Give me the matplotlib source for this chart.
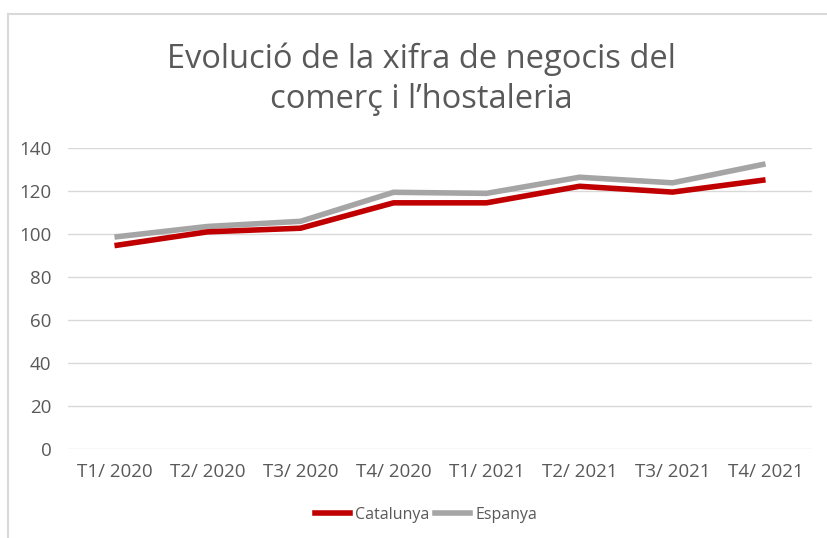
import matplotlib.pyplot as plt
from matplotlib.lines import Line2D

plt.rcParams['font.family'] = ['Open Sans', 'DejaVu Sans']

# dades
trimestres = ['T1/ 2020', 'T2/ 2020', 'T3/ 2020', 'T4/ 2020',
              'T1/ 2021', 'T2/ 2021', 'T3/ 2021', 'T4/ 2021']
catalunya = [94.6, 101.0, 102.7, 114.5, 114.5, 122.2, 119.5, 125.2]
espanya = [98.6, 103.5, 105.9, 119.4, 118.9, 126.4, 123.8, 132.6]

fig = plt.figure(figsize=(8.27, 5.38), dpi=100)
ax = fig.add_axes([0.0822, 0.1654, 0.8997, 0.5595])

x = list(range(len(trimestres)))
ax.plot(x, espanya, color='#a5a5a5', lw=4, solid_capstyle='butt', label='Espanya', zorder=3)
ax.plot(x, catalunya, color='#c00000', lw=4, solid_capstyle='butt', label='Catalunya', zorder=4)

ax.set_xlim(-0.5, len(trimestres) - 0.5)
ax.set_ylim(0, 140)
ax.set_yticks(range(0, 141, 20))
ax.set_xticks(x)
ax.set_xticklabels(trimestres)
ax.grid(axis='y', color='#d9d9d9', lw=1)
ax.set_axisbelow(True)
for s in ax.spines.values():
    s.set_visible(False)
ax.tick_params(length=0, labelsize=13.5, labelcolor='#595959')
ax.tick_params(axis='x', pad=10)
ax.tick_params(axis='y', pad=12)

fig.text(0.51, 0.852, "Evolució de la xifra de negocis del\ncomerç i l’hostaleria",
         ha='center', va='center', fontsize=23.5, color='#595959', linespacing=1.27)

handles = [Line2D([], [], color='#c00000', lw=4),
           Line2D([], [], color='#a5a5a5', lw=4)]
fig.legend(handles, ['Catalunya', 'Espanya'], loc='center', bbox_to_anchor=(0.515, 0.043),
           ncol=2, frameon=False, fontsize=11.5, labelcolor='#595959',
           handlelength=2.2, handletextpad=0.3, columnspacing=0.4)

# vora del gràfic
fig.add_artist(Line2D([0.0097, 1.0], [0.974, 0.974], color='#d9d9d9', lw=1.5))
fig.add_artist(Line2D([0.0097, 0.0097], [0.0, 0.974], color='#d9d9d9', lw=1.5))

fig.savefig('out.png', dpi=100)
